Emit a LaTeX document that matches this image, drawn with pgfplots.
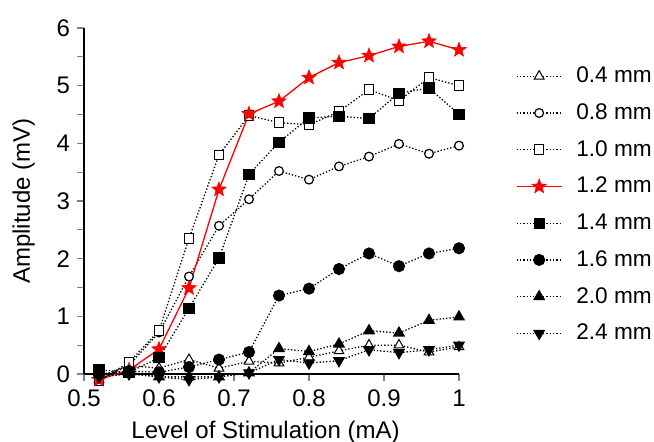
\documentclass[border=0pt]{standalone}
\usepackage{pgfplots}
\pgfplotsset{compat=1.18}
\usepackage{fontspec}
\setmainfont{Liberation Sans}
\pgfdeclareplotmark{fstar}{%
  \pgfpathmoveto{\pgfpointpolar{90}{\pgfplotmarksize}}%
  \pgfpathlineto{\pgfpointpolar{126}{0.42\pgfplotmarksize}}%
  \pgfpathlineto{\pgfpointpolar{162}{\pgfplotmarksize}}%
  \pgfpathlineto{\pgfpointpolar{198}{0.42\pgfplotmarksize}}%
  \pgfpathlineto{\pgfpointpolar{234}{\pgfplotmarksize}}%
  \pgfpathlineto{\pgfpointpolar{270}{0.42\pgfplotmarksize}}%
  \pgfpathlineto{\pgfpointpolar{306}{\pgfplotmarksize}}%
  \pgfpathlineto{\pgfpointpolar{342}{0.42\pgfplotmarksize}}%
  \pgfpathlineto{\pgfpointpolar{18}{\pgfplotmarksize}}%
  \pgfpathlineto{\pgfpointpolar{54}{0.42\pgfplotmarksize}}%
  \pgfpathclose
  \pgfusepathqfillstroke}
\pgfplotstableread{
x     a     b     c     d     e     f     g     h
0.52 -0.10 -0.05 -0.12 -0.10  0.07  0.00  0.00 -0.05
0.56  0.15  0.15  0.20  0.07  0.03  0.05  0.03  0.00
0.60  0.10  0.72  0.75  0.43  0.28  0.03 -0.05 -0.05
0.64  0.25  1.69  2.35  1.49  1.14  0.12 -0.05 -0.10
0.68  0.10  2.57  3.80  3.20  2.01  0.25 -0.05 -0.05
0.72  0.22  3.03  4.48  4.51  3.46  0.38  0.02  0.02
0.76  0.19  3.52  4.36  4.73  4.02  1.36  0.44  0.25
0.80  0.29  3.37  4.32  5.14  4.44  1.48  0.39  0.19
0.84  0.40  3.60  4.55  5.40  4.47  1.82  0.52  0.23
0.88  0.50  3.77  4.93  5.52  4.43  2.09  0.75  0.42
0.92  0.50  3.99  4.74  5.68  4.87  1.87  0.71  0.37
0.96  0.38  3.82  5.14  5.77  4.96  2.09  0.93  0.42
1.00  0.47  3.96  5.00  5.62  4.50  2.18  0.99  0.50
}\datatable
\begin{document}
\begin{tikzpicture}[font=\fontsize{12}{14.4}\selectfont]
\useasboundingbox (-42pt,-34pt) rectangle (285pt,187pt);
\begin{axis}[
  at={(0pt,0pt)}, anchor=south west,
  scale only axis, width=187.5pt, height=173pt,
  xmin=0.5, xmax=1.0, ymin=0, ymax=6,
  clip=false,
  axis lines*=left,
  axis line style={line width=1pt},
  xtick={0.5,0.6,0.7,0.8,0.9,1.0},
  xticklabels={0.5,0.6,0.7,0.8,0.9,1},
  ytick={0,1,2,3,4,5,6},
  minor y tick num=1,
  tick style={gray, line width=0.6pt},
  major tick length=3.5pt, minor tick length=3.5pt,
  tick align=outside,
  xticklabel style={yshift=-1pt},
  /pgf/number format/assume math mode=true,
  xlabel={Level of Stimulation (mA)},
  ylabel={Amplitude (mV)},
  xlabel style={at={(axis description cs:0.484,-0.185)}, anchor=base},
  ylabel style={at={(axis description cs:-0.144,0.5)}, anchor=base},
  every axis plot/.append style={line width=0.65pt},
  legend style={at={(axis description cs:1.135,0.912)}, anchor=north west, draw=none, fill=none,
    font=\fontsize{11.3}{13.6}\selectfont,
    row sep=5.0pt, cells={anchor=west},
    /tikz/every odd column/.append style={column sep=5pt}},
  legend image code/.code={\draw[mark repeat=2,mark phase=2,#1] plot coordinates {(0pt,0pt) (11.25pt,0pt) (22.5pt,0pt)};},
]
\tikzset{dl/.style={black, dash pattern=on 0.65pt off 1pt}}
\addplot[dl, mark=triangle*, mark options={solid, fill=white, draw=black, line width=0.5pt}, mark size=2.8pt] table[x=x,y=a]{\datatable};
\addlegendentry{0.4 mm}
\addplot[dl, mark=*, mark options={solid, fill=white, draw=black, line width=0.6pt}, mark size=2.2pt] table[x=x,y=b]{\datatable};
\addlegendentry{0.8 mm}
\addplot[dl, mark=square*, mark options={solid, fill=white, draw=black, line width=0.5pt}, mark size=2.4pt] table[x=x,y=c]{\datatable};
\addlegendentry{1.0 mm}
\addplot[red, solid, mark=fstar, mark options={fill=red, draw=red, line width=0.3pt}, mark size=3.8pt] table[x=x,y=d]{\datatable};
\addlegendentry{1.2 mm}
\addplot[dl, mark=square*, mark options={solid, fill=black}, mark size=2.5pt] table[x=x,y=e]{\datatable};
\addlegendentry{1.4 mm}
\addplot[dl, mark=*, mark options={solid, fill=black}, mark size=2.7pt] table[x=x,y=f]{\datatable};
\addlegendentry{1.6 mm}
\addplot[dl, mark=triangle*, mark options={solid, fill=black}, mark size=2.9pt] table[x=x,y=g]{\datatable};
\addlegendentry{2.0 mm}
\addplot[dl, mark=triangle*, mark options={solid, fill=black, rotate=180}, mark size=2.9pt] table[x=x,y=h]{\datatable};
\addlegendentry{2.4 mm}
\end{axis}
\end{tikzpicture}
\end{document}
